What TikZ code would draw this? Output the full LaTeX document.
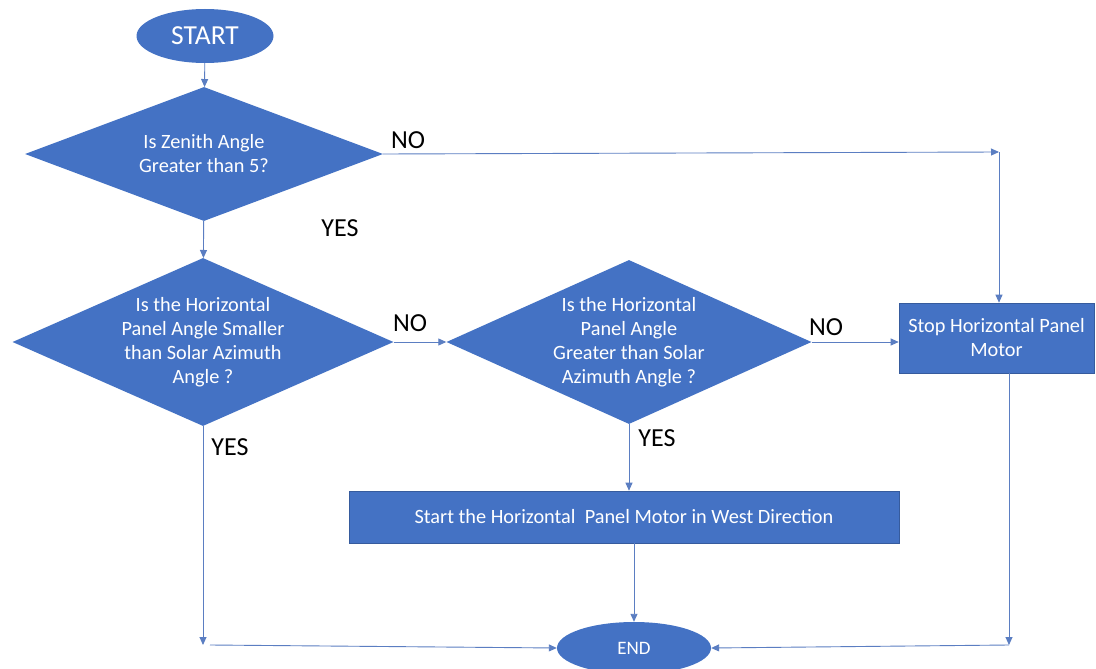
\documentclass[tikz,border=0pt]{standalone}
\usepackage{fontspec}
\setmainfont{Carlito}
\usetikzlibrary{shapes.geometric,arrows.meta,positioning}
\definecolor{flowblue}{HTML}{4472C4}
\definecolor{linkblue}{HTML}{5B7EC2}
\begin{document}
\begin{tikzpicture}[x=1pt,y=-1pt,
	terminal/.style={ellipse,fill=flowblue,text=white,inner sep=0pt},
	decision/.style={diamond,fill=flowblue,text=white,inner sep=0pt,align=center,font=\fontsize{20.3}{24}\selectfont},
	process/.style={rectangle,fill=flowblue,draw=flowblue!80!black,line width=0.6pt,text=white,inner sep=0pt,align=center,font=\fontsize{20.3}{24}\selectfont},
	answer/.style={font=\fontsize{26}{30}\selectfont,text=black},
	link/.style={draw=linkblue,line width=0.9pt,-{Triangle[length=8pt,width=7pt]}}]
	\useasboundingbox[fill=white] (0,0) rectangle (1096,669);
	\node[terminal,minimum width=137,minimum height=54,font=\fontsize{27.5}{32}\selectfont] (start) at (205,36) {START};
	\node[decision,aspect=2.67,minimum width=358,minimum height=134] (zenith) at (204,154) {Is Zenith Angle\\Greater than 5?};
	\node[decision,aspect=2.27,inner xsep=-6pt,minimum width=381,minimum height=168] (smaller) at (203,342) {Is the Horizontal\\Panel Angle Smaller\\than Solar Azimuth\\Angle ?};
	\node[decision,aspect=2.23,inner xsep=-6pt,minimum width=365,minimum height=164] (greater) at (629,342) {Is the Horizontal\\Panel Angle\\Greater than Solar\\Azimuth Angle ?};
	\node[process,minimum width=195,minimum height=70] (stop) at (996.5,338) {Stop Horizontal Panel\\Motor};
	\node[process,minimum width=550,minimum height=52] (west) at (624,517) {Start the Horizontal\ \ Panel Motor in West Direction};
	\node[terminal,minimum width=154,minimum height=52,font=\fontsize{19}{22}\selectfont] (end) at (634,648) {END};
	\coordinate (zenithturn) at (999,152);
	\coordinate (leftturn) at (203,645);
	\coordinate (rightturn) at (1009,645);
	\node[answer] (no1) at (408,140) {NO};
	\node[answer] (no2) at (410,323) {NO};
	\node[answer] (no3) at (826,327) {NO};
	\node[answer] (yes1) at (340,228) {YES};
	\node[answer] (yes2) at (230,447) {YES};
	\node[answer] (yes3) at (657,438) {YES};
	\draw[link] (start) -- (zenith);
	\draw[link] (zenith.east) -- (zenithturn);
	\draw[link] (zenithturn) -- (zenithturn |- stop.north);
	\draw[link] (zenith) -- (smaller);
	\draw[link] (smaller.east) -- (greater.west);
	\draw[link] (greater.east) -- (greater.east -| stop.west);
	\draw[link] (greater.south) -- (greater.south |- west.north);
	\draw[link] (smaller.south) -- (leftturn);
	\draw[link] ([xshift=7]leftturn) -- (end.west);
	\draw[link] (west.south -| end.north) -- (end.north);
	\draw[link] (rightturn |- stop.south) -- (rightturn);
	\draw[link] (rightturn) -- (end.east);
\end{tikzpicture}
\end{document}
